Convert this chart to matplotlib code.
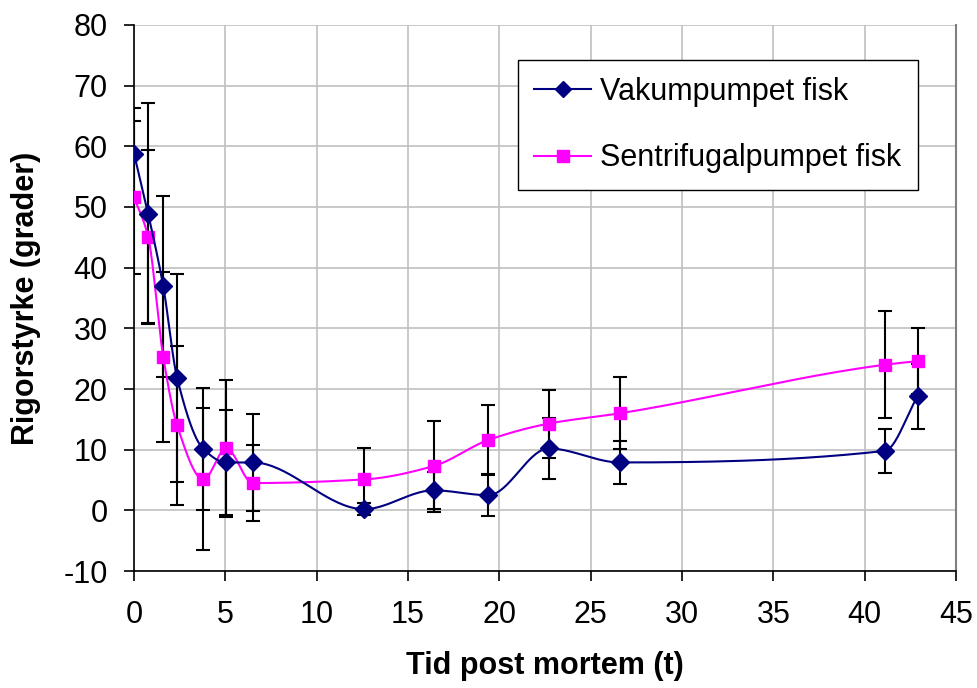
import numpy as np
import matplotlib
matplotlib.use("Agg")
import matplotlib.pyplot as plt
from matplotlib.lines import Line2D

plt.rcParams['font.family'] = ['Liberation Sans', 'DejaVu Sans']
plt.rcParams['axes.unicode_minus'] = False

# tid post mortem (t)
tid = [0, 0.77, 1.6, 2.36, 3.8, 5.05, 6.5, 12.6, 16.4, 19.4, 22.7, 26.6, 41.1, 42.9]

vakum = [58.8, 48.9, 36.9, 21.8, 10.1, 7.9, 7.9, 0.2, 3.3, 2.5, 10.2, 7.9, 9.8, 18.8]
vakum_err = [7.5, 18.2, 14.9, 17.2, 10.0, 8.6, 8.0, 1.0, 3.0, 3.5, 5.0, 3.6, 3.6, 5.4]

sentri = [51.6, 45.1, 25.3, 14.0, 5.1, 10.2, 4.5, 5.1, 7.3, 11.6, 14.3, 16.0, 24.0, 24.6]
sentri_err = [12.6, 14.3, 14.0, 13.1, 11.7, 11.3, 6.2, 5.1, 7.5, 5.7, 5.6, 5.9, 8.8, 5.4]

blue = '#000080'
pink = '#FF00FF'


def smooth(x, y, n=40):
    # glatt linje: monoton kubisk Hermite (PCHIP)
    x = np.asarray(x, float)
    y = np.asarray(y, float)
    h = np.diff(x)
    d = np.diff(y) / h
    m = np.zeros_like(y)
    for k in range(1, len(x) - 1):
        if d[k - 1] * d[k] > 0:
            w1 = 2 * h[k] + h[k - 1]
            w2 = h[k] + 2 * h[k - 1]
            m[k] = (w1 + w2) / (w1 / d[k - 1] + w2 / d[k])
    m[0] = d[0]
    m[-1] = d[-1]
    xs, ys = [], []
    for i in range(len(x) - 1):
        t = np.linspace(0, 1, n)
        if i > 0:
            t = t[1:]
        h00 = 2 * t**3 - 3 * t**2 + 1
        h10 = t**3 - 2 * t**2 + t
        h01 = -2 * t**3 + 3 * t**2
        h11 = t**3 - t**2
        xs.append(x[i] + t * h[i])
        ys.append(h00 * y[i] + h10 * h[i] * m[i] + h01 * y[i + 1] + h11 * h[i] * m[i + 1])
    return np.concatenate(xs), np.concatenate(ys)


fig = plt.figure(figsize=(9.77, 6.88), dpi=100)
ax = fig.add_axes([0.1372, 0.170, 0.8413, 0.7937])

ax.errorbar(tid, sentri, yerr=sentri_err, fmt='none', ecolor='black',
            elinewidth=1.5, capsize=5, capthick=1.5, zorder=2)
ax.errorbar(tid, vakum, yerr=vakum_err, fmt='none', ecolor='black',
            elinewidth=1.5, capsize=5, capthick=1.5, zorder=2)

sx, sy = smooth(tid, sentri)
ax.plot(sx, sy, color=pink, lw=1.5, zorder=3)
ax.plot(tid, sentri, ls='none', marker='s', ms=9, color=pink, zorder=4)

vx, vy = smooth(tid, vakum)
ax.plot(vx, vy, color=blue, lw=1.5, zorder=5)
ax.plot(tid, vakum, ls='none', marker='D', ms=9.5, color=blue, zorder=6)

ax.set_xlim(0, 45)
ax.set_ylim(-10, 80)
ax.set_xticks(np.arange(0, 46, 5))
ax.set_yticks(np.arange(-10, 81, 10))
ax.grid(True, color='#c0c0c0', lw=1.2)
ax.set_axisbelow(True)

ax.spines['top'].set_visible(False)
ax.spines['right'].set_color('#808080')
ax.spines['right'].set_linewidth(1.5)
for s in ['left', 'bottom']:
    ax.spines[s].set_color('black')
    ax.spines[s].set_linewidth(1.2)

ax.tick_params(direction='out', length=7, width=1.2, labelsize=22)
ax.tick_params(axis='y', pad=12)
ax.tick_params(axis='x', pad=14)

ax.set_xlabel('Tid post mortem (t)', fontsize=22, fontweight='bold', labelpad=15)
ax.set_ylabel('Rigorstyrke (grader)', fontsize=22, fontweight='bold', labelpad=16)

handles = [
    Line2D([], [], color=blue, lw=1.5, marker='D', ms=8),
    Line2D([], [], color=pink, lw=1.5, marker='s', ms=8),
]
leg = ax.legend(handles, ['Vakumpumpet fisk', 'Sentrifugalpumpet fisk'],
                loc='upper right', bbox_to_anchor=(0.9396, 0.9128),
                bbox_transform=fig.transFigure, fontsize=22,
                handlelength=1.85, handletextpad=0.3, labelspacing=1.2,
                borderpad=0.55, borderaxespad=0, fancybox=False,
                framealpha=1, edgecolor='black')
leg.get_frame().set_linewidth(1.0)

fig.savefig('out.png', dpi=100)
